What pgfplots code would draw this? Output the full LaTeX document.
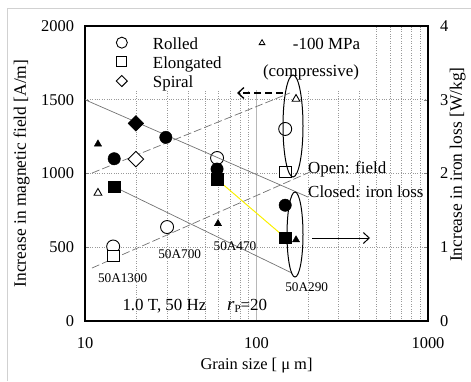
\documentclass[border=0pt]{standalone}
\usepackage{fontspec}
\setmainfont{Liberation Serif}
\usepackage{pgfplots}
\pgfplotsset{compat=1.18}
\usetikzlibrary{arrows.meta}
\definecolor{trend}{RGB}{115,115,115}
\definecolor{yel}{RGB}{250,240,0}
\begin{document}
\begin{tikzpicture}[x=1bp,y=1bp]
\path[use as bounding box] (0,0) rectangle (471,381);
\draw[black!18, line width=0.8bp] (7,0) -- (7,373) -- (471,373);
\begin{axis}[
 at={(85bp,60bp)}, anchor=south west, scale only axis, width=343bp, height=295bp,
 xmode=log, xmin=10, xmax=1000,
 /pgf/number format/assume math mode=true,
 /pgf/number format/set thousands separator={},
 tick label style={font=\fontsize{16.5}{19}\selectfont},
 label style={font=\fontsize{17}{19}\selectfont},
 axis line style={line width=1.6bp},
 major tick length=4bp,
 every minor tick/.append style={draw=none},
 xtick style={draw=none},
 ymin=0, ymax=2000, ytick={0,500,1000,1500,2000}, ytick pos=left, yticklabel pos=left,
 xtick={10,100,1000}, xticklabels={10,100,1000},
 minor xtick={20,30,40,50,60,70,80,90,200,300,400,500,600,700,800,900},
 xmajorgrids, xminorgrids, ymajorgrids,
 major x grid style={solid, black!28, line width=1bp},
 minor x grid style={dotted, black!40, line width=0.6bp},
 major y grid style={dotted, black!40, line width=0.6bp},
 xticklabel style={yshift=-13bp},
 yticklabel style={xshift=-7.5bp},
 xlabel={Grain size [ μ m]},
 xlabel style={at={(axis description cs:0.5,-0.1525)}, anchor=center, font=\fontsize{16.5}{19}\selectfont},
 ylabel={Increase in magnetic field [A/m]},
 ylabel style={at={(axis description cs:-0.185,0.5)}, anchor=center, font=\fontsize{17.5}{19}\selectfont},
]
\fill[white] (rel axis cs:0.003,0.783) rectangle (rel axis cs:0.84,0.997);
% field trend lines (dashed)
\addplot[trend, line width=0.7bp, dash pattern=on 8bp off 3bp] coordinates {(10.98,1003) (156.7,1546)};
\addplot[trend, line width=0.7bp, dash pattern=on 8bp off 3bp] coordinates {(10.98,359) (205,1010)};
% open markers: field
\addplot[only marks, mark=*, mark size=6.5bp, mark options={fill=white, draw=black, line width=0.9bp}] coordinates {(14.6,505) (30.1,637) (58.9,1105) (147,1302)};
\addplot[only marks, mark=square*, mark size=5.8bp, mark options={fill=white, draw=black, line width=0.9bp}] coordinates {(14.6,440) (147,1010)};
\addplot[only marks, mark=square*, mark size=5.5bp, mark options={rotate=45, fill=white, draw=black, line width=0.9bp}] coordinates {(19.8,1098)};
\addplot[only marks, mark=triangle*, mark size=4.5bp, mark options={fill=white, draw=black, line width=0.9bp}] coordinates {(11.9,868) (170,1505)};
% legend markers
\addplot[only marks, mark=*, mark size=5.5bp, mark options={fill=white, draw=black, line width=0.9bp}] coordinates {(16.4,1887)};
\addplot[only marks, mark=square*, mark size=5bp, mark options={fill=white, draw=black, line width=0.9bp}] coordinates {(16.4,1763)};
\addplot[only marks, mark=square*, mark size=3.9bp, mark options={rotate=45, fill=white, draw=black, line width=0.9bp}] coordinates {(16.4,1627)};
\addplot[only marks, mark=triangle*, mark size=3.3bp, mark options={fill=white, draw=black, line width=0.8bp}] coordinates {(107.7,1885)};
\end{axis}
\begin{axis}[
 at={(85bp,60bp)}, anchor=south west, scale only axis, width=343bp, height=295bp,
 xmode=log, xmin=10, xmax=1000,
 /pgf/number format/assume math mode=true,
 tick label style={font=\fontsize{16.5}{19}\selectfont},
 axis line style={line width=1.6bp},
 major tick length=4bp,
 ymin=0, ymax=4, ytick={0,1,2,3,4}, ytick pos=right, yticklabel pos=right,
 xtick=\empty, minor xtick={},
 yticklabel style={xshift=8.5bp},
 ylabel={Increase in iron loss [W/kg]},
 ylabel style={at={(axis description cs:1.0866,0.53)}, anchor=center, font=\fontsize{17.5}{19}\selectfont},
]
% iron loss trend lines (solid)
\addplot[trend, line width=0.7bp] coordinates {(10,3.0) (200,1.68)};
\addplot[trend, line width=0.7bp] coordinates {(14.8,1.82) (161,0.65)};
\addplot[yel, line width=1bp] coordinates {(58.9,1.92) (147,1.13)};
% filled markers: iron loss
\addplot[only marks, mark=*, mark size=6.2bp, mark options={fill=black, draw=black}] coordinates {(14.8,2.20) (29.6,2.49) (58.9,2.06) (147,1.57)};
\addplot[only marks, mark=square*, mark size=5.8bp, mark options={fill=black, draw=black}] coordinates {(14.8,1.82) (58.9,1.92) (147,1.13)};
\addplot[only marks, mark=square*, mark size=5.5bp, mark options={rotate=45, fill=black, draw=black}] coordinates {(19.8,2.68)};
\addplot[only marks, mark=triangle*, mark size=4.2bp, mark options={fill=black, draw=black}] coordinates {(11.9,2.40) (59.6,1.32) (170,1.10)};
\end{axis}
% annotations
\def\lf{\fontsize{17}{20}\selectfont}
\node[anchor=base west, inner sep=0, font=\lf] at (152.7,331.7) {Rolled};
\node[anchor=base west, inner sep=0, font=\lf] at (152.7,312.7) {Elongated};
\node[anchor=base west, inner sep=0, font=\lf] at (152.7,293.7) {Spiral};
\node[anchor=base west, inner sep=0, font=\lf] at (292.7,331.7) {-100 MPa};
\node[anchor=base, inner sep=0, font=\lf] at (311,305) {(compressive)};
\node[anchor=base west, inner sep=0, font=\lf] at (308,207.7) {Open: field};
\node[anchor=base west, inner sep=0, font=\lf] at (308,183.3) {Closed: iron loss};
\node[anchor=base west, inner sep=0, font=\lf] at (122.3,71) {1.0 T, 50 Hz};
\node[anchor=base west, inner sep=0, font=\lf] at (227,71) {{\fontsize{19}{20}\selectfont\itshape r}\raisebox{-2.5bp}{\fontsize{11}{12}\selectfont P}=20};
\def\sf{\fontsize{13.3}{15}\selectfont}
\node[anchor=base, inner sep=0, font=\sf] at (122.7,98.7) {50A1300};
\node[anchor=base, inner sep=0, font=\sf] at (179.7,122.7) {50A700};
\node[anchor=base, inner sep=0, font=\sf] at (235,130.3) {50A470};
\node[anchor=base, inner sep=0, font=\sf] at (306.7,90) {50A290};
\draw[black, line width=1bp] (293,255) ellipse [x radius=10, y radius=51];
\draw[black, line width=1bp] (295,146.5) ellipse [x radius=8, y radius=42.5];
\draw[black, line width=1.3bp, dash pattern=on 7bp off 4bp, -{Straight Barb[length=6bp,width=11bp]}] (283,288) -- (237,288);
\draw[black, line width=1bp, -{Straight Barb[length=6bp,width=11bp]}] (312,143) -- (370,143);
\end{tikzpicture}
\end{document}
